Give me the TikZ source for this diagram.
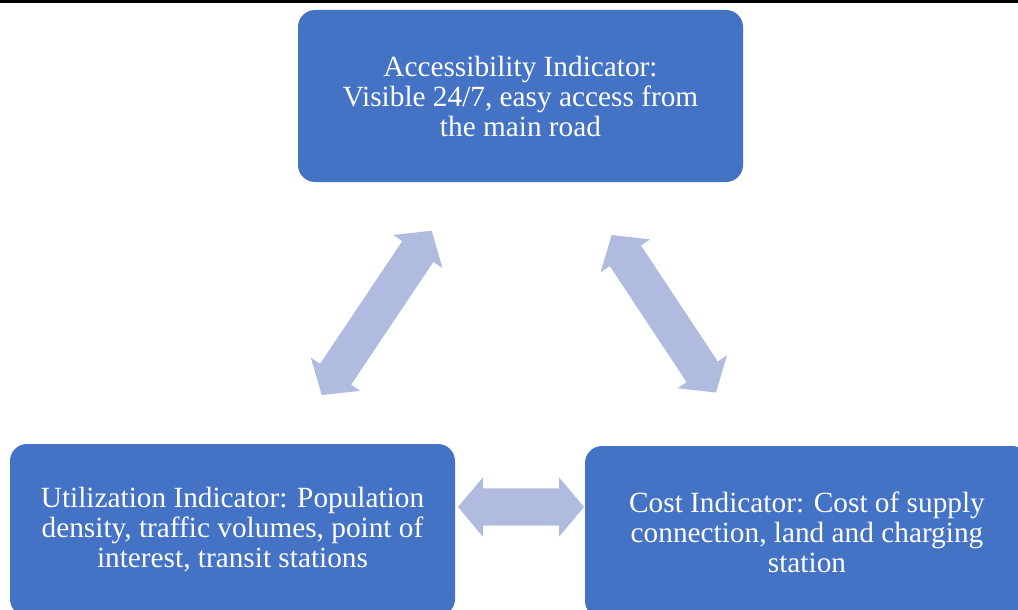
\documentclass[tikz,border=0pt]{standalone}
\usepackage{fontspec}
\setmainfont{Liberation Serif}
\usetikzlibrary{shapes.arrows}
\definecolor{colorBox}{HTML}{4472C4}
\definecolor{colorArrow}{HTML}{B0BCDF}
\tikzset{
  indicator/.style={rectangle, rounded corners=17pt, fill=colorBox, text=white, align=center,
    minimum width=445pt, minimum height=172pt, inner sep=0pt, font=\fontsize{29.3}{30}\selectfont},
  link/.style={double arrow, fill=colorArrow, inner xsep=0pt, inner ysep=18.5pt,
    double arrow head extend=11pt, double arrow tip angle=100},
}

\begin{document}
\begin{tikzpicture}[x=1pt, y=-1pt]
\clip (0,0) rectangle (1018,610);
\fill[black] (0,0) rectangle (1018,2.7);
\node[indicator] (acc) at (520.5,96) {Accessibility Indicator:\\Visible 24/7, easy access from\\the main road};
\node[indicator] (util) at (232.5,530) {Utilization Indicator: Population\\density, traffic volumes, point of\\interest, transit stations};
\node[indicator, minimum width=444pt] (cost) at (807,532) {Cost Indicator: Cost of supply\\connection, land and charging\\station};
% block arrows between the indicators
\node[link, minimum height=197.7pt, rotate=56.2] (accutil) at (376.7,312.9) {};
\node[link, minimum height=189pt, rotate=-56.5] (acccost) at (663.8,313.8) {};
\node[link, minimum height=126pt] (utilcost) at (521,507) {};
\end{tikzpicture}
\end{document}
